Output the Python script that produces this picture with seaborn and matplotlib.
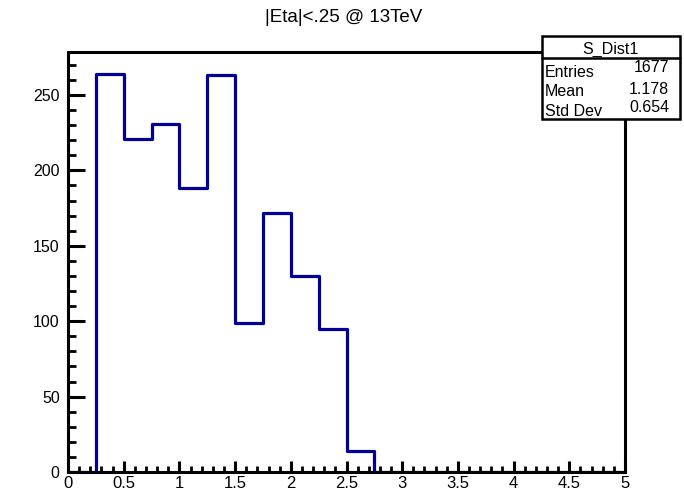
import numpy as np
import pandas as pd
import matplotlib
matplotlib.use("Agg")
import matplotlib.pyplot as plt
from matplotlib.patches import Rectangle
from matplotlib.ticker import MultipleLocator
import seaborn as sns

# ---- data ----
bin_edges = [0.0, 0.25, 0.5, 0.75, 1.0, 1.25, 1.5, 1.75, 2.0, 2.25, 2.5,
             2.75, 3.0, 3.25, 3.5, 3.75, 4.0, 4.25, 4.5, 4.75, 5.0]
counts = [0, 264, 221, 231, 188, 263, 99, 172, 130, 95, 14,
          0, 0, 0, 0, 0, 0, 0, 0, 0]
title = "|Eta|<.25 @ 13TeV"
stats_name = "S_Dist1"
stats_labels = ["Entries", "Mean", "Std Dev"]
stats_values = ["1677", "1.178", "0.654"]
x_ticks = [0, 0.5, 1, 1.5, 2, 2.5, 3, 3.5, 4, 4.5, 5]
x_tick_labels = ["0", "0.5", "1", "1.5", "2", "2.5", "3", "3.5", "4", "4.5", "5"]
y_ticks = [0, 50, 100, 150, 200, 250]
y_tick_labels = ["0", "50", "100", "150", "200", "250"]

sns.set_style("white")
plt.rcParams['font.family'] = ['Liberation Sans', 'DejaVu Sans']
plt.rcParams['text.color'] = 'black'
plt.rcParams['xtick.color'] = 'black'
plt.rcParams['ytick.color'] = 'black'
plt.rcParams['xtick.labelcolor'] = 'black'
plt.rcParams['ytick.labelcolor'] = 'black'

centers = [(a + b) / 2 for a, b in zip(bin_edges[:-1], bin_edges[1:])]
df = pd.DataFrame({"eta": centers, "n": counts})

W, H = 684, 497
fig = plt.figure(figsize=(W / 100, H / 100), dpi=100)
ax = fig.add_axes([68 / W, 1 - 472 / H, (625 - 68) / W, (472 - 52) / H])

sns.histplot(data=df, x="eta", weights="n", bins=bin_edges, element="step",
             fill=False, color="#000099", linewidth=2.3, ax=ax)

ax.set_xlim(0, 5)
ax.set_ylim(0, 278.5)
ax.set_xlabel("")
ax.set_ylabel("")
for s in ax.spines.values():
    s.set_linewidth(2.2)
    s.set_color("black")
    s.set_zorder(5)

ax.set_xticks(x_ticks)
ax.set_xticklabels(x_tick_labels)
ax.set_yticks(y_ticks)
ax.set_yticklabels(y_tick_labels)
ax.xaxis.set_minor_locator(MultipleLocator(0.1))
ax.yaxis.set_minor_locator(MultipleLocator(10))
ax.tick_params(axis="x", which="major", direction="in", length=8, width=2.2,
               labelsize=12, pad=3, bottom=True, top=False, colors="black")
ax.tick_params(axis="x", which="minor", direction="in", length=4, width=2.0,
               bottom=True, top=False, colors="black")
ax.tick_params(axis="y", which="major", direction="in", length=12, width=2.2,
               labelsize=11.5, pad=6, left=True, right=False, colors="black")
ax.tick_params(axis="y", which="minor", direction="in", length=6, width=2.0,
               left=True, right=False, colors="black")

fig.text(344 / W, 1 - 17 / H, title, ha="center", va="center", fontsize=13.5,
         color="black")

# stats box
x0, x1 = 542 / W, 680 / W
yt, yb = 1 - 36 / H, 1 - 119 / H
fig.add_artist(Rectangle((x0, yb), x1 - x0, yt - yb, transform=fig.transFigure,
                         facecolor="white", edgecolor="black", linewidth=1.8,
                         zorder=11))
fig.add_artist(plt.Line2D([x0, x1], [1 - 58 / H, 1 - 58 / H],
                          transform=fig.transFigure, color="black",
                          linewidth=1.8, zorder=12))
fig.text(610 / W, 1 - 49 / H, stats_name, ha="center", va="center",
         fontsize=11.5, color="black", zorder=13)
label_y = [72, 92, 111]
value_y = [67, 89, 108]
for lab, val, ly, vy in zip(stats_labels, stats_values, label_y, value_y):
    fig.text(545 / W, 1 - ly / H, lab, ha="left", va="center", fontsize=11.5,
             color="black", zorder=13)
    fig.text(669 / W, 1 - vy / H, val, ha="right", va="center", fontsize=11.5,
             color="black", zorder=13)

fig.savefig("out.png", dpi=100, facecolor="white")
